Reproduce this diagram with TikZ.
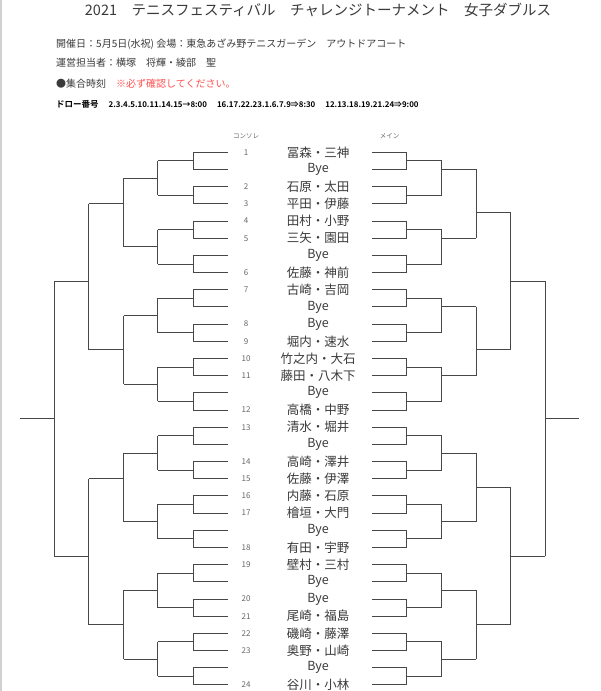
\documentclass[tikz,border=0pt]{standalone}
\usepackage{fontspec}
\setmainfont{Noto Sans CJK JP}[BoldFont={Noto Sans CJK JP Bold}]

\definecolor{linegray}{HTML}{474747}
\definecolor{textgray}{HTML}{3A3A3A}
\definecolor{numgray}{HTML}{666666}
\definecolor{notered}{HTML}{FF4F4F}

% y of draw slot #1 (1..32), in px from the top
\def\rowy#1{152.3+(#1-1)*17.18}
% one join of the bracket: x in, x out, top slot, bottom slot, slot of the way out
\def\bjoin#1#2#3#4#5{\draw[bracket] (#1,{\rowy{#3}}) -- (#1,{\rowy{#4}}) (#1,{\rowy{#5}}) -- (#2,{\rowy{#5}});}

\begin{document}
\begin{tikzpicture}[x=1pt,y=-1pt,
    bracket/.style={draw=linegray, line width=0.9pt},
    pair/.style={text=textgray, font=\fontsize{12.5}{14}\selectfont, inner sep=0pt},
    drawno/.style={text=numgray, font=\fontsize{8}{9}\selectfont, inner sep=0pt},
    info/.style={anchor=west, text=textgray, font=\fontsize{10}{12}\selectfont, inner sep=0pt},
    side/.style={text=numgray, font=\fontsize{6.5}{7}\selectfont, inner sep=0pt}]

    \useasboundingbox (0,0) rectangle (600,691);
    \fill[black!18] (0,0) rectangle (2,691);

    % heading
    \node[text=textgray, font=\fontsize{14.5}{17}\selectfont, inner sep=0pt] (title) at (318,10)
      {2021　テニスフェスティバル　チャレンジトーナメント　女子ダブルス};
    \node[info] (date) at (56,44) {開催日：5月5日(水祝)\ 会場：東急あざみ野テニスガーデン　アウトドアコート};
    \node[info] (staff) at (56,63) {運営担当者：横塚　将輝・綾部　聖};
    \node[info] (meet) at (56,84) {●集合時刻　\textcolor{notered}{※必ず確認してください。}};
    \node[info, text=black, font=\fontsize{8.5}{10}\selectfont\bfseries] (times) at (56,104)
      {ドロー番号\hspace{10pt}{\fontsize{7.9}{10}\selectfont 2.3.4.5.10.11.14.15→8:00\hspace{10pt}16.17.22.23.1.6.7.9⇒8:30\hspace{10pt}12.13.18.19.21.24⇒9:00}};

    \node[side] (conso) at (246,136) {コンソレ};
    \node[side] (main) at (389.5,136) {メイン};

    % draw slots
    \foreach \i/\num/\team in {1/1/冨森・三神, 2//Bye, 3/2/石原・太田, 4/3/平田・伊藤,
        5/4/田村・小野, 6/5/三矢・園田, 7//Bye, 8/6/佐藤・神前,
        9/7/古崎・吉岡, 10//Bye, 11/8/Bye, 12/9/堀内・速水,
        13/10/竹之内・大石, 14/11/藤田・八木下, 15//Bye, 16/12/高橋・中野,
        17/13/清水・堀井, 18//Bye, 19/14/高崎・澤井, 20/15/佐藤・伊澤,
        21/16/内藤・石原, 22/17/檜垣・大門, 23//Bye, 24/18/有田・宇野,
        25/19/壁村・三村, 26//Bye, 27/20/Bye, 28/21/尾崎・福島,
        29/22/磯崎・藤澤, 30/23/奥野・山崎, 31//Bye, 32/24/谷川・小林} {
      \node[pair] (team\i) at (318,{\rowy{\i}}) {\team};
      \node[drawno] (no\i) at (246,{\rowy{\i}}) {\num};
      \coordinate (L\i) at (228.3,{\rowy{\i}});
      \coordinate (l\i) at (193.3,{\rowy{\i}});
      \coordinate (R\i) at (371.7,{\rowy{\i}});
      \coordinate (r\i) at (406.7,{\rowy{\i}});
      \draw[bracket] (L\i) -- (l\i);
      \draw[bracket] (R\i) -- (r\i);
    }

    % consolation side (left)
    \foreach \k in {1,...,16}
      {\bjoin{193.3}{157.7}{2*\k-1}{2*\k}{2*\k-0.5}}
    \foreach \ta/\tb/\tout in {1.5/3.5/2.5, 5.5/7.5/6.5, 9.5/11.5/10.5, 13.5/15.5/14.5,
        17.5/19.5/18.5, 21.5/23.5/22.5, 25.5/27.5/26.5, 29.5/31.5/30.5}
      {\bjoin{157.7}{123.7}{\ta}{\tb}{\tout}}
    \foreach \ta/\tb/\tout in {2.5/6.5/4, 10.5/14.5/12.5, 18.5/22.5/20, 26.5/30.5/28.5}
      {\bjoin{123.7}{88.7}{\ta}{\tb}{\tout}}
    \bjoin{88.7}{54.3}{4}{12.5}{8.5}
    \bjoin{88.7}{54.3}{20}{28.5}{24.5}
    \bjoin{54.3}{20}{8.5}{24.5}{16.5}

    % main side (right)
    \foreach \k in {1,...,16}
      {\bjoin{406.7}{441.7}{2*\k-1}{2*\k}{2*\k-0.5}}
    \foreach \ta/\tb/\tout in {1.5/3.5/2, 5.5/7.5/6, 9.5/11.5/10, 13.5/15.5/14,
        17.5/19.5/18.5, 21.5/23.5/22.5, 25.5/27.5/26.5, 29.5/31.5/30.5}
      {\bjoin{441.7}{476}{\ta}{\tb}{\tout}}
    \foreach \ta/\tb/\tout in {2/6/4.5, 10/14/12.5, 18.5/22.5/20.5, 26.5/30.5/28.5}
      {\bjoin{476}{510.7}{\ta}{\tb}{\tout}}
    \bjoin{510.7}{545.3}{4.5}{12.5}{8.5}
    \bjoin{510.7}{545.3}{20.5}{28.5}{24.5}
    \bjoin{545.3}{579.3}{8.5}{24.5}{16.5}

\end{tikzpicture}
\end{document}
